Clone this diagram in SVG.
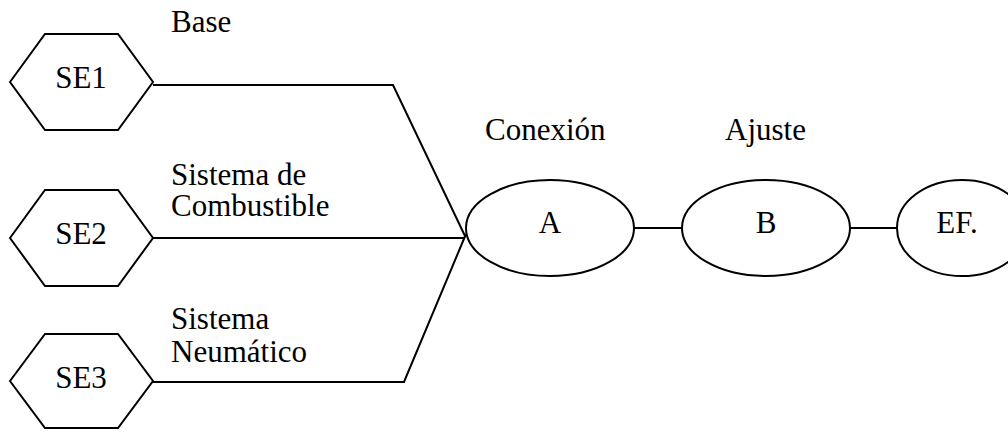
<svg xmlns="http://www.w3.org/2000/svg" width="1008" height="432" viewBox="0 0 1008 432">
  <style>
    .shape { fill: #ffffff; stroke: #000000; stroke-width: 2; }
    .wire { fill: none; stroke: #000000; stroke-width: 2; stroke-linejoin: miter; }
    .lbl { font-family: 'Liberation Serif', 'Times New Roman', serif; font-size: 31px; fill: #000000; }
    .mid { text-anchor: middle; }
  </style>

  <!-- connectors -->
  <g id="connectors">
    <polyline class="wire" points="153,85 393,85 465,236"/>
    <polyline class="wire" points="153,238 465,238"/>
    <polyline class="wire" points="153,382 404,382 466,234"/>
    <line class="wire" x1="634" y1="228" x2="682" y2="228"/>
    <line class="wire" x1="850" y1="228" x2="897" y2="228"/>
  </g>

  <!-- subsystem inputs -->
  <g id="se1">
    <polygon class="shape" points="10,82 45,34 118,34 153,82 118,130 45,130"/>
    <text class="lbl mid" x="81" y="88">SE1</text>
  </g>
  <g id="se2">
    <polygon class="shape" points="10,238 45,190 118,190 153,238 118,286 45,286"/>
    <text class="lbl mid" x="81" y="244">SE2</text>
  </g>
  <g id="se3">
    <polygon class="shape" points="10,381 45,334 118,334 153,381 118,428 45,428"/>
    <text class="lbl mid" x="81" y="388">SE3</text>
  </g>

  <!-- line labels -->
  <g id="labels">
    <text class="lbl" x="171" y="32">Base</text>
    <text class="lbl" x="171" y="185">Sistema de<tspan x="171" y="216">Combustible</tspan></text>
    <text class="lbl" x="171" y="329">Sistema<tspan x="171" y="362">Neumático</tspan></text>
    <text class="lbl" x="485" y="140">Conexión</text>
    <text class="lbl" x="725" y="140">Ajuste</text>
  </g>

  <!-- process stages -->
  <g id="a">
    <ellipse class="shape" cx="550" cy="228" rx="84" ry="48"/>
    <text class="lbl mid" x="550" y="233">A</text>
  </g>
  <g id="b">
    <ellipse class="shape" cx="766" cy="228" rx="84" ry="48"/>
    <text class="lbl mid" x="766" y="233">B</text>
  </g>
  <g id="ef">
    <ellipse class="shape" cx="962" cy="228" rx="65" ry="48"/>
    <text class="lbl mid" x="957" y="233">EF.</text>
  </g>
</svg>
